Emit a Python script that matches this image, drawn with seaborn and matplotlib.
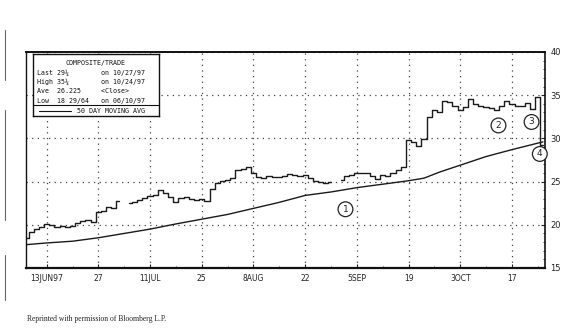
import numpy as np
import pandas as pd
import matplotlib
matplotlib.use("Agg")
import matplotlib.pyplot as plt
import seaborn as sns
from matplotlib.ticker import FixedLocator, MultipleLocator

# ---------------- data ----------------
start_date = "1997-06-09"
end_date = "1997-10-27"
# daily closes (weekday calendar, NaN = market holiday)
close = [18.5, 19.2, 19.5, 19.7, 20.1, 20.0, 19.8, 19.9, 19.7, 19.9,
         20.2, 20.4, 20.6, 20.3, 21.5, 21.6, 22.1, 21.9, 22.7, np.nan,
         22.5, 22.6, 22.9, 23.1, 23.3, 23.5, 24.0, 23.7, 23.2, 22.6,
         23.1, 23.2, 23.0, 22.9, 23.0, 22.8, 24.1, 24.8, 25.1, 25.2,
         25.4, 26.3, 26.5, 26.7, 26.0, 25.5, 25.4, 25.6, 25.5, 25.5,
         25.7, 25.9, 25.8, 25.6, 25.8, 25.4, 25.1, 25.0, 24.8, 24.9,
         np.nan, 25.2, 25.6, 25.8, 26.0, 26.0, 26.0, 25.7, 25.3, 25.8,
         25.7, 26.0, 26.3, 26.7, 29.8, 29.6, 29.1, 29.9, 32.5,
         33.3, 33.1, 34.3, 34.2, 33.7, 33.3, 33.6, 34.6, 34.0, 33.7,
         33.6, 33.5, 33.3, 33.8, 34.3, 34.0, 33.8, 33.8, 34.1, 33.4,
         34.8, 29.25]
# 50 day moving average, read at selected trading-day indices
ma_days = [0, 4, 9, 14, 19, 24, 29, 34, 39, 44, 49, 54, 59, 64, 69, 74, 77, 80, 84, 89, 94, 100]
ma_vals = [17.7, 17.9, 18.1, 18.5, 19.0, 19.5, 20.1, 20.65, 21.2, 21.9, 22.6, 23.4,
           23.8, 24.3, 24.7, 25.1, 25.4, 26.1, 26.9, 27.9, 28.7, 29.6]
tick_dates = ["1997-06-13", "1997-06-27", "1997-07-11", "1997-07-25", "1997-08-08",
              "1997-08-22", "1997-09-05", "1997-09-19", "1997-10-03", "1997-10-17"]
tick_labels = ["13JUN97", "27", "11JUL", "25", "8AUG", "22", "5SEP", "19", "3OCT", "17"]
y_ticks = [15, 20, 25, 30, 35, 40]
# circled callouts: (label, trading-day index, price)
callouts = [("1", 61.8, 21.8), ("2", 91.4, 31.5), ("3", 97.8, 31.9), ("4", 99.4, 28.2)]
legend_lines = ["Last 29\u00bc        on 10/27/97",
                "High 35\u00bc        on 10/24/97",
                "Ave  26.225     <Close>",
                "Low  18 29/64   on 06/10/97"]

# ---------------- build ----------------
days = pd.bdate_range(start_date, end_date)
df = pd.DataFrame({"day": np.arange(len(days)), "close": close})
ma_df = pd.DataFrame({"day": ma_days, "ma": ma_vals})
tick_pos = [int(np.where(days == pd.Timestamp(d))[0][0]) for d in tick_dates]

sns.set_theme(style="white")
plt.rcParams["font.family"] = ["DejaVu Sans"]

fig = plt.figure(figsize=(5.87, 3.28), dpi=100)
ax = fig.add_axes([26 / 587, 1 - 268 / 328, (545 - 26) / 587, (268 - 52) / 328])

# price steps, split at holidays
valid = df["close"].notna()
seg_id = (~valid).cumsum()
for _, seg in df[valid].groupby(seg_id[valid]):
    sns.lineplot(data=seg, x="day", y="close", ax=ax, color="#1a1a1a", lw=1.0,
                 drawstyle="steps-mid", estimator=None, sort=False, legend=False)

sns.lineplot(data=ma_df, x="day", y="ma", ax=ax, color="#1a1a1a", lw=1.0,
             estimator=None, sort=False, legend=False)

ax.set_xlim(0, 100.4)
ax.set_ylim(15, 40)
ax.set_xlabel("")
ax.set_ylabel("")

ax.xaxis.set_major_locator(FixedLocator(tick_pos))
ax.set_xticklabels(tick_labels, fontsize=5.5, color="#222222")
ax.xaxis.set_minor_locator(FixedLocator([p + 5 for p in tick_pos]))
ax.yaxis.tick_right()
ax.yaxis.set_major_locator(FixedLocator(y_ticks))
ax.yaxis.set_minor_locator(MultipleLocator(1))
ax.set_yticklabels([str(v) for v in y_ticks], fontsize=6, color="#222222")
ax.tick_params(axis="both", which="major", direction="in", length=3, width=0.8,
               color="#222222", pad=4)
ax.tick_params(axis="both", which="minor", direction="in", length=1.8, width=0.6,
               color="#222222")
ax.tick_params(axis="y", which="both", right=True, left=False)
ax.tick_params(axis="x", which="both", bottom=True)

for s in ax.spines.values():
    s.set_visible(True)
    s.set_color("#111111")
ax.spines["top"].set_linewidth(1.4)
ax.spines["bottom"].set_linewidth(1.6)
ax.spines["left"].set_linewidth(1.0)
ax.spines["right"].set_linewidth(1.2)

ax.grid(True, which="major", color="#444444", linestyle=(0, (1, 3.5)), linewidth=0.9)
ax.set_axisbelow(True)

for lab, d, v in callouts:
    ax.text(d, v, lab, ha="center", va="center", fontsize=6.5,
            color="#222222",
            bbox=dict(boxstyle="circle,pad=0.32", fc="white", ec="#222222", lw=0.9))

# legend / info box
box_ax = fig.add_axes([33 / 587, 1 - 116 / 328, (159 - 33) / 587, (116 - 54) / 328])
box_ax.set_xlim(0, 1)
box_ax.set_ylim(0, 1)
box_ax.set_xticks([])
box_ax.set_yticks([])
box_ax.set_facecolor("white")
for s in box_ax.spines.values():
    s.set_color("#111111")
    s.set_linewidth(1.0)
mono = ["DejaVu Sans Mono"]
box_ax.text(0.5, 0.86, "COMPOSITE/TRADE", ha="center", va="center", fontsize=4.8,
            family=mono, color="#111111")
ys = [0.70, 0.55, 0.40, 0.25]
for y, t in zip(ys, legend_lines):
    box_ax.text(0.03, y, t, ha="left", va="center", fontsize=4.8, family=mono,
                color="#111111")
box_ax.plot([0, 1], [0.17, 0.17], color="#111111", lw=0.8)
box_ax.plot([0.05, 0.30], [0.08, 0.08], color="#111111", lw=0.8)
box_ax.text(0.35, 0.08, "50 DAY MOVING AVG", ha="left", va="center", fontsize=4.8,
            family=mono, color="#111111")

# scan page details
fig.add_artist(plt.Line2D([5 / 587, 5 / 587], [1 - 30 / 328, 1 - 80 / 328],
                          color="#666666", lw=0.8))
fig.add_artist(plt.Line2D([5 / 587, 5 / 587], [1 - 110 / 328, 1 - 220 / 328],
                          color="#666666", lw=0.8))
fig.add_artist(plt.Line2D([5 / 587, 5 / 587], [1 - 255 / 328, 1 - 300 / 328],
                          color="#666666", lw=0.8))
fig.text(27 / 587, 1 - 319 / 328, "Reprinted with permission of Bloomberg L.P.",
         fontsize=5.5, family=["Liberation Serif", "DejaVu Serif"], color="#222222",
         ha="left", va="center")

fig.savefig("out.png", dpi=100, facecolor="white")
